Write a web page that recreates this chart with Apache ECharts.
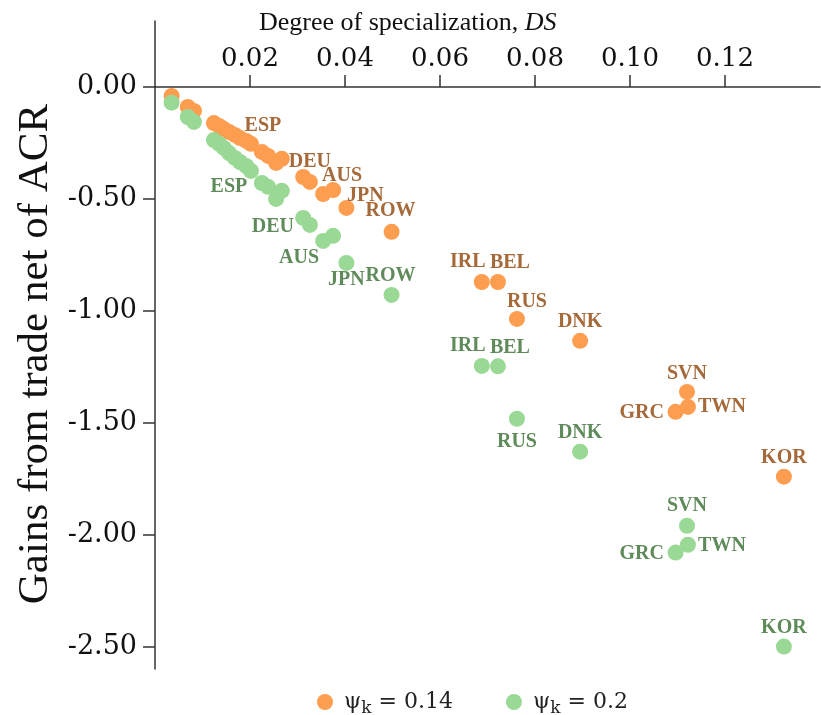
<!DOCTYPE html>
<html><head><meta charset="utf-8">
<script src="https://cdn.jsdelivr.net/npm/echarts@6/dist/echarts.min.js"></script>
<style>html,body{margin:0;padding:0;background:#fff}#c{width:821px;height:715px}</style>
</head><body><div id="c"></div>
<script>
// ---- data ----
const countries = ['', '', '', '', '', '', '', '', '', '', 'ESP', '', '', '', '', '', 'DEU', '', 'AUS', 'JPN', 'ROW', 'IRL', 'BEL', 'RUS', 'DNK', 'GRC', 'SVN', 'TWN', 'KOR'];
const ds = [0.0035, 0.0069, 0.0082, 0.0124, 0.0135, 0.0145, 0.0156, 0.0168, 0.0179, 0.0192, 0.0202, 0.0225, 0.0238, 0.0255, 0.0267, 0.0312, 0.0326, 0.0354, 0.0375, 0.0403, 0.0498, 0.0688, 0.0722, 0.0762, 0.0895, 0.1096, 0.1120, 0.1122, 0.1324];
const gainsPsi014 = [-0.04, -0.089, -0.107, -0.161, -0.174, -0.188, -0.201, -0.214, -0.228, -0.241, -0.254, -0.29, -0.308, -0.339, -0.321, -0.402, -0.424, -0.478, -0.46, -0.54, -0.647, -0.871, -0.871, -1.036, -1.134, -1.451, -1.362, -1.429, -1.741];
const gainsPsi02 = [-0.07, -0.134, -0.156, -0.237, -0.254, -0.272, -0.295, -0.317, -0.335, -0.353, -0.375, -0.429, -0.446, -0.50, -0.464, -0.585, -0.616, -0.6875, -0.665, -0.786, -0.929, -1.246, -1.248, -1.482, -1.629, -2.080, -1.960, -2.045, -2.50];
const psiValues = ['0.14', '0.2'];
const xTicks = [0.02, 0.04, 0.06, 0.08, 0.10, 0.12];
const yTicks = [0, -0.5, -1, -1.5, -2, -2.5];

// ---- label placement (pixel offsets from each point: [psi=0.14], [psi=0.2]) ----
const labelOffsets = {
  ESP: [[12, -18], [-22, 16]],
  DEU: [[0, -20], [-37, 2]],
  AUS: [[9, -14], [-34, 22]],
  JPN: [[19, -12], [0, 17]],
  ROW: [[-1, -21], [-1, -19]],
  IRL: [[-14, -20], [-14, -20]],
  BEL: [[12, -19], [12, -19]],
  RUS: [[10, -17], [0, 23]],
  DNK: [[0, -19], [0, -19]],
  GRC: [[-34, 1], [-34, 1]],
  SVN: [[0, -18], [0, -20]],
  TWN: [[34, 0], [34, 1]],
  KOR: [[0, -19], [0, -19]]
};

const dotColors = ['#FD9D50', '#9AD895'];
const labelColors = ['#A5693A', '#5F8B5B'];
const seriesNames = psiValues.map(v => 'ψk = ' + v);
const axisColor = '#333';

function buildData(gains, s) {
  return ds.map((x, i) => {
    const c = countries[i];
    const item = { name: c, value: [x, gains[i]] };
    if (c && labelOffsets[c]) {
      item.label = { show: true, offset: labelOffsets[c][s] };
    } else {
      item.label = { show: false };
    }
    return item;
  });
}

const chart = echarts.init(document.getElementById('c'));
const mkSeries = (gains, s) => ({
  name: seriesNames[s],
  type: 'scatter',
  xAxisIndex: 0,
  yAxisIndex: 0,
  symbol: 'circle',
  symbolSize: 16,
  clip: false,
  itemStyle: { color: dotColors[s], opacity: 1 },
  label: {
    position: 'inside',
    formatter: '{b}',
    fontFamily: 'Liberation Serif',
    fontWeight: 'bold',
    fontSize: 20,
    color: labelColors[s],
    align: 'center',
    verticalAlign: 'middle'
  },
  emphasis: { disabled: true },
  data: buildData(gains, s),
  z: 2 + s
});

chart.setOption({
  animation: false,
  backgroundColor: '#fff',
  title: {
    text: '{n|Degree of specialization, }{i|DS}',
    left: 254,
    top: 5,
    textStyle: {
      fontWeight: 'normal',
      rich: {
        n: { fontFamily: 'Liberation Serif', fontSize: 26, fontWeight: 'normal', color: '#111' },
        i: { fontFamily: 'Liberation Serif', fontSize: 26, fontWeight: 'normal', fontStyle: 'italic', color: '#111' }
      }
    }
  },
  grid: [
    { left: 155, width: 665, top: 87, height: 582 },
    { left: 155, width: 665, top: 21, height: 66 }
  ],
  xAxis: [{
    type: 'value',
    gridIndex: 0,
    position: 'top',
    min: 0,
    max: 0.14,
    axisLine: { show: true, onZero: false, lineStyle: { color: axisColor, width: 1.5 } },
    axisTick: { show: true, length: 12, customValues: xTicks, lineStyle: { color: axisColor, width: 1.5 } },
    axisLabel: {
      customValues: xTicks,
      formatter: v => v.toFixed(2),
      margin: 15,
      fontFamily: 'DejaVu Serif',
      fontSize: 26,
      color: '#111'
    },
    splitLine: { show: false }
  }, {
    type: 'value',
    gridIndex: 1,
    min: 0,
    max: 0.14,
    show: false
  }],
  yAxis: [{
    type: 'value',
    gridIndex: 0,
    min: -2.6,
    max: 0,
    name: 'Gains from trade net of ACR',
    nameLocation: 'middle',
    nameRotate: 90,
    nameGap: 98,
    nameTextStyle: { fontFamily: 'Liberation Serif', fontSize: 43, color: '#111', padding: [0, 0, 0, 48] },
    axisLine: { show: true, onZero: false, lineStyle: { color: axisColor, width: 1.5 } },
    axisTick: { show: true, length: 12, customValues: yTicks, lineStyle: { color: axisColor, width: 1.5 } },
    axisLabel: {
      customValues: yTicks,
      formatter: v => v.toFixed(2),
      margin: 18,
      fontFamily: 'DejaVu Serif',
      fontSize: 27,
      color: '#111'
    },
    splitLine: { show: false }
  }, {
    type: 'value',
    gridIndex: 1,
    min: 0,
    max: 0.29,
    axisLine: { show: true, onZero: false, lineStyle: { color: axisColor, width: 1.5 } },
    axisTick: { show: false },
    axisLabel: { show: false },
    splitLine: { show: false }
  }],
  legend: {
    data: seriesNames,
    left: 312,
    top: 682,
    icon: 'circle',
    itemWidth: 16,
    itemHeight: 16,
    itemGap: 53,
    formatter: name => name.replace('ψk', 'ψ{k|k}'),
    textStyle: {
      fontFamily: 'DejaVu Serif',
      fontSize: 22,
      color: '#222',
      lineHeight: 30,
      padding: [0, 0, 0, 6],
      rich: {
        k: { fontFamily: 'DejaVu Serif', fontSize: 17, color: '#222', verticalAlign: 'bottom', lineHeight: 17 }
      }
    }
  },
  series: [mkSeries(gainsPsi014, 0), mkSeries(gainsPsi02, 1)]
});
</script>
</body></html>
